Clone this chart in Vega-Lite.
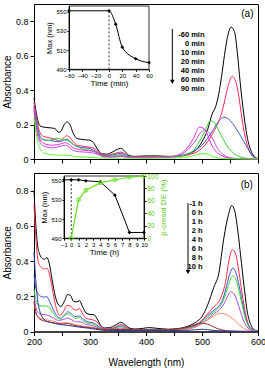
{
"$schema": "https://vega.github.io/schema/vega-lite/v6.json",
"padding": {"left": 1, "top": 3, "right": 2, "bottom": 2},
"config": {
 "view": {"stroke": "black", "strokeWidth": 1},
 "font": "Liberation Sans",
 "axis": {"labelFont": "Liberation Sans", "titleFont": "Liberation Sans", "labelColor": "black", "titleColor": "black", "domainColor": "black", "tickColor": "black", "grid": false, "titleFontWeight": "normal", "labelFlush": false, "labelOverlap": false}
},
"spacing": 6,
"resolve": {"scale": {"color": "independent"}, "legend": {"color": "independent"}},
"datasets": {
 "specA": [
  {"s":"-60 min","w":200,"v":0.355},{"s":"-60 min","w":204,"v":0.27},{"s":"-60 min","w":208,"v":0.21},{"s":"-60 min","w":212,"v":0.19},{"s":"-60 min","w":218,"v":0.185},{"s":"-60 min","w":225,"v":0.182},{"s":"-60 min","w":232,"v":0.18},{"s":"-60 min","w":238,"v":0.175},{"s":"-60 min","w":244,"v":0.155},{"s":"-60 min","w":248,"v":0.16},{"s":"-60 min","w":254,"v":0.2},{"s":"-60 min","w":259,"v":0.215},{"s":"-60 min","w":264,"v":0.2},{"s":"-60 min","w":270,"v":0.15},{"s":"-60 min","w":276,"v":0.12},{"s":"-60 min","w":283,"v":0.115},{"s":"-60 min","w":290,"v":0.112},{"s":"-60 min","w":298,"v":0.11},{"s":"-60 min","w":305,"v":0.1},{"s":"-60 min","w":310,"v":0.075},{"s":"-60 min","w":316,"v":0.045},{"s":"-60 min","w":322,"v":0.03},{"s":"-60 min","w":330,"v":0.028},{"s":"-60 min","w":340,"v":0.04},{"s":"-60 min","w":348,"v":0.055},{"s":"-60 min","w":355,"v":0.062},{"s":"-60 min","w":362,"v":0.045},{"s":"-60 min","w":370,"v":0.02},{"s":"-60 min","w":380,"v":0.015},{"s":"-60 min","w":400,"v":0.018},{"s":"-60 min","w":420,"v":0.018},{"s":"-60 min","w":440,"v":0.015},{"s":"-60 min","w":460,"v":0.018},{"s":"-60 min","w":475,"v":0.03},{"s":"-60 min","w":490,"v":0.055},{"s":"-60 min","w":500,"v":0.1},{"s":"-60 min","w":510,"v":0.17},{"s":"-60 min","w":518,"v":0.26},{"s":"-60 min","w":525,"v":0.31},{"s":"-60 min","w":530,"v":0.38},{"s":"-60 min","w":535,"v":0.48},{"s":"-60 min","w":540,"v":0.6},{"s":"-60 min","w":545,"v":0.7},{"s":"-60 min","w":552,"v":0.765},{"s":"-60 min","w":558,"v":0.74},{"s":"-60 min","w":563,"v":0.62},{"s":"-60 min","w":568,"v":0.45},{"s":"-60 min","w":575,"v":0.25},{"s":"-60 min","w":580,"v":0.14},{"s":"-60 min","w":585,"v":0.07},{"s":"-60 min","w":590,"v":0.03},{"s":"-60 min","w":595,"v":0.01},{"s":"-60 min","w":600,"v":0.002},
  {"s":"0 min","w":200,"v":0.33},{"s":"0 min","w":204,"v":0.25},{"s":"0 min","w":208,"v":0.18},{"s":"0 min","w":212,"v":0.145},{"s":"0 min","w":218,"v":0.13},{"s":"0 min","w":225,"v":0.125},{"s":"0 min","w":232,"v":0.12},{"s":"0 min","w":240,"v":0.11},{"s":"0 min","w":246,"v":0.105},{"s":"0 min","w":252,"v":0.12},{"s":"0 min","w":258,"v":0.135},{"s":"0 min","w":264,"v":0.125},{"s":"0 min","w":270,"v":0.1},{"s":"0 min","w":277,"v":0.08},{"s":"0 min","w":285,"v":0.075},{"s":"0 min","w":295,"v":0.07},{"s":"0 min","w":305,"v":0.065},{"s":"0 min","w":312,"v":0.05},{"s":"0 min","w":320,"v":0.03},{"s":"0 min","w":330,"v":0.022},{"s":"0 min","w":342,"v":0.03},{"s":"0 min","w":355,"v":0.04},{"s":"0 min","w":363,"v":0.03},{"s":"0 min","w":372,"v":0.013},{"s":"0 min","w":390,"v":0.012},{"s":"0 min","w":420,"v":0.012},{"s":"0 min","w":445,"v":0.012},{"s":"0 min","w":465,"v":0.018},{"s":"0 min","w":480,"v":0.028},{"s":"0 min","w":495,"v":0.05},{"s":"0 min","w":510,"v":0.1},{"s":"0 min","w":521,"v":0.16},{"s":"0 min","w":530,"v":0.22},{"s":"0 min","w":537,"v":0.29},{"s":"0 min","w":542,"v":0.36},{"s":"0 min","w":548,"v":0.44},{"s":"0 min","w":554,"v":0.48},{"s":"0 min","w":559,"v":0.46},{"s":"0 min","w":564,"v":0.4},{"s":"0 min","w":569,"v":0.29},{"s":"0 min","w":574,"v":0.18},{"s":"0 min","w":580,"v":0.09},{"s":"0 min","w":587,"v":0.03},{"s":"0 min","w":594,"v":0.008},{"s":"0 min","w":600,"v":0.002},
  {"s":"10 min","w":200,"v":0.31},{"s":"10 min","w":204,"v":0.23},{"s":"10 min","w":208,"v":0.16},{"s":"10 min","w":212,"v":0.125},{"s":"10 min","w":218,"v":0.112},{"s":"10 min","w":226,"v":0.108},{"s":"10 min","w":234,"v":0.105},{"s":"10 min","w":242,"v":0.1},{"s":"10 min","w":248,"v":0.102},{"s":"10 min","w":254,"v":0.11},{"s":"10 min","w":259,"v":0.115},{"s":"10 min","w":265,"v":0.1},{"s":"10 min","w":272,"v":0.08},{"s":"10 min","w":280,"v":0.07},{"s":"10 min","w":290,"v":0.065},{"s":"10 min","w":300,"v":0.06},{"s":"10 min","w":310,"v":0.045},{"s":"10 min","w":320,"v":0.025},{"s":"10 min","w":330,"v":0.018},{"s":"10 min","w":342,"v":0.025},{"s":"10 min","w":355,"v":0.032},{"s":"10 min","w":365,"v":0.02},{"s":"10 min","w":375,"v":0.01},{"s":"10 min","w":400,"v":0.01},{"s":"10 min","w":430,"v":0.01},{"s":"10 min","w":455,"v":0.015},{"s":"10 min","w":475,"v":0.03},{"s":"10 min","w":490,"v":0.055},{"s":"10 min","w":500,"v":0.08},{"s":"10 min","w":510,"v":0.12},{"s":"10 min","w":520,"v":0.17},{"s":"10 min","w":530,"v":0.22},{"s":"10 min","w":539,"v":0.243},{"s":"10 min","w":546,"v":0.235},{"s":"10 min","w":555,"v":0.205},{"s":"10 min","w":565,"v":0.155},{"s":"10 min","w":575,"v":0.1},{"s":"10 min","w":582,"v":0.06},{"s":"10 min","w":590,"v":0.02},{"s":"10 min","w":596,"v":0.005},{"s":"10 min","w":600,"v":0.001},
  {"s":"20 min","w":200,"v":0.29},{"s":"20 min","w":204,"v":0.21},{"s":"20 min","w":208,"v":0.15},{"s":"20 min","w":212,"v":0.12},{"s":"20 min","w":218,"v":0.11},{"s":"20 min","w":226,"v":0.108},{"s":"20 min","w":234,"v":0.115},{"s":"20 min","w":240,"v":0.12},{"s":"20 min","w":246,"v":0.118},{"s":"20 min","w":252,"v":0.112},{"s":"20 min","w":259,"v":0.108},{"s":"20 min","w":266,"v":0.095},{"s":"20 min","w":275,"v":0.075},{"s":"20 min","w":285,"v":0.06},{"s":"20 min","w":300,"v":0.05},{"s":"20 min","w":310,"v":0.04},{"s":"20 min","w":320,"v":0.022},{"s":"20 min","w":330,"v":0.015},{"s":"20 min","w":345,"v":0.02},{"s":"20 min","w":355,"v":0.025},{"s":"20 min","w":365,"v":0.015},{"s":"20 min","w":380,"v":0.008},{"s":"20 min","w":420,"v":0.008},{"s":"20 min","w":450,"v":0.012},{"s":"20 min","w":470,"v":0.025},{"s":"20 min","w":485,"v":0.05},{"s":"20 min","w":495,"v":0.1},{"s":"20 min","w":505,"v":0.16},{"s":"20 min","w":515,"v":0.222},{"s":"20 min","w":522,"v":0.212},{"s":"20 min","w":530,"v":0.165},{"s":"20 min","w":539,"v":0.108},{"s":"20 min","w":548,"v":0.062},{"s":"20 min","w":558,"v":0.03},{"s":"20 min","w":570,"v":0.01},{"s":"20 min","w":585,"v":0.002},{"s":"20 min","w":600,"v":0.0},
  {"s":"40 min","w":200,"v":0.3},{"s":"40 min","w":204,"v":0.2},{"s":"40 min","w":208,"v":0.14},{"s":"40 min","w":212,"v":0.105},{"s":"40 min","w":218,"v":0.09},{"s":"40 min","w":225,"v":0.083},{"s":"40 min","w":232,"v":0.08},{"s":"40 min","w":240,"v":0.082},{"s":"40 min","w":248,"v":0.088},{"s":"40 min","w":256,"v":0.095},{"s":"40 min","w":262,"v":0.085},{"s":"40 min","w":270,"v":0.065},{"s":"40 min","w":280,"v":0.055},{"s":"40 min","w":292,"v":0.05},{"s":"40 min","w":305,"v":0.045},{"s":"40 min","w":315,"v":0.03},{"s":"40 min","w":325,"v":0.015},{"s":"40 min","w":340,"v":0.012},{"s":"40 min","w":355,"v":0.02},{"s":"40 min","w":370,"v":0.01},{"s":"40 min","w":400,"v":0.008},{"s":"40 min","w":440,"v":0.012},{"s":"40 min","w":462,"v":0.03},{"s":"40 min","w":475,"v":0.07},{"s":"40 min","w":485,"v":0.12},{"s":"40 min","w":495,"v":0.185},{"s":"40 min","w":502,"v":0.18},{"s":"40 min","w":510,"v":0.14},{"s":"40 min","w":516,"v":0.09},{"s":"40 min","w":525,"v":0.045},{"s":"40 min","w":535,"v":0.02},{"s":"40 min","w":545,"v":0.008},{"s":"40 min","w":560,"v":0.002},{"s":"40 min","w":600,"v":0.0},
  {"s":"60 min","w":200,"v":0.28},{"s":"60 min","w":204,"v":0.18},{"s":"60 min","w":208,"v":0.12},{"s":"60 min","w":212,"v":0.09},{"s":"60 min","w":218,"v":0.075},{"s":"60 min","w":225,"v":0.068},{"s":"60 min","w":232,"v":0.065},{"s":"60 min","w":240,"v":0.068},{"s":"60 min","w":248,"v":0.075},{"s":"60 min","w":256,"v":0.08},{"s":"60 min","w":262,"v":0.07},{"s":"60 min","w":270,"v":0.05},{"s":"60 min","w":280,"v":0.042},{"s":"60 min","w":292,"v":0.04},{"s":"60 min","w":305,"v":0.035},{"s":"60 min","w":315,"v":0.025},{"s":"60 min","w":325,"v":0.012},{"s":"60 min","w":340,"v":0.01},{"s":"60 min","w":355,"v":0.015},{"s":"60 min","w":370,"v":0.008},{"s":"60 min","w":400,"v":0.006},{"s":"60 min","w":440,"v":0.01},{"s":"60 min","w":462,"v":0.025},{"s":"60 min","w":475,"v":0.055},{"s":"60 min","w":487,"v":0.1},{"s":"60 min","w":497,"v":0.15},{"s":"60 min","w":505,"v":0.17},{"s":"60 min","w":512,"v":0.155},{"s":"60 min","w":520,"v":0.11},{"s":"60 min","w":528,"v":0.06},{"s":"60 min","w":538,"v":0.025},{"s":"60 min","w":550,"v":0.008},{"s":"60 min","w":565,"v":0.002},{"s":"60 min","w":600,"v":0.0},
  {"s":"90 min","w":200,"v":0.24},{"s":"90 min","w":203,"v":0.17},{"s":"90 min","w":206,"v":0.11},{"s":"90 min","w":210,"v":0.065},{"s":"90 min","w":215,"v":0.04},{"s":"90 min","w":222,"v":0.03},{"s":"90 min","w":232,"v":0.025},{"s":"90 min","w":245,"v":0.022},{"s":"90 min","w":258,"v":0.022},{"s":"90 min","w":268,"v":0.017},{"s":"90 min","w":280,"v":0.012},{"s":"90 min","w":300,"v":0.01},{"s":"90 min","w":320,"v":0.006},{"s":"90 min","w":350,"v":0.005},{"s":"90 min","w":400,"v":0.004},{"s":"90 min","w":450,"v":0.006},{"s":"90 min","w":475,"v":0.012},{"s":"90 min","w":490,"v":0.025},{"s":"90 min","w":500,"v":0.032},{"s":"90 min","w":508,"v":0.03},{"s":"90 min","w":518,"v":0.015},{"s":"90 min","w":530,"v":0.005},{"s":"90 min","w":545,"v":0.001},{"s":"90 min","w":600,"v":0.0}
 ],
 "specB": [
  {"s":"-1 h","w":200,"v":0.8},{"s":"-1 h","w":203,"v":0.62},{"s":"-1 h","w":206,"v":0.5},{"s":"-1 h","w":210,"v":0.44},{"s":"-1 h","w":215,"v":0.415},{"s":"-1 h","w":219,"v":0.41},{"s":"-1 h","w":223,"v":0.42},{"s":"-1 h","w":227,"v":0.39},{"s":"-1 h","w":232,"v":0.3},{"s":"-1 h","w":238,"v":0.2},{"s":"-1 h","w":244,"v":0.15},{"s":"-1 h","w":248,"v":0.142},{"s":"-1 h","w":254,"v":0.17},{"s":"-1 h","w":260,"v":0.21},{"s":"-1 h","w":265,"v":0.205},{"s":"-1 h","w":271,"v":0.17},{"s":"-1 h","w":276,"v":0.168},{"s":"-1 h","w":281,"v":0.175},{"s":"-1 h","w":287,"v":0.14},{"s":"-1 h","w":293,"v":0.105},{"s":"-1 h","w":300,"v":0.097},{"s":"-1 h","w":307,"v":0.095},{"s":"-1 h","w":313,"v":0.07},{"s":"-1 h","w":319,"v":0.035},{"s":"-1 h","w":326,"v":0.02},{"s":"-1 h","w":335,"v":0.022},{"s":"-1 h","w":345,"v":0.035},{"s":"-1 h","w":355,"v":0.052},{"s":"-1 h","w":362,"v":0.04},{"s":"-1 h","w":370,"v":0.02},{"s":"-1 h","w":380,"v":0.014},{"s":"-1 h","w":395,"v":0.018},{"s":"-1 h","w":405,"v":0.022},{"s":"-1 h","w":420,"v":0.018},{"s":"-1 h","w":440,"v":0.013},{"s":"-1 h","w":460,"v":0.018},{"s":"-1 h","w":475,"v":0.03},{"s":"-1 h","w":490,"v":0.055},{"s":"-1 h","w":500,"v":0.085},{"s":"-1 h","w":510,"v":0.15},{"s":"-1 h","w":521,"v":0.25},{"s":"-1 h","w":530,"v":0.33},{"s":"-1 h","w":539,"v":0.53},{"s":"-1 h","w":547,"v":0.66},{"s":"-1 h","w":553,"v":0.715},{"s":"-1 h","w":558,"v":0.69},{"s":"-1 h","w":564,"v":0.57},{"s":"-1 h","w":569,"v":0.43},{"s":"-1 h","w":575,"v":0.26},{"s":"-1 h","w":581,"v":0.11},{"s":"-1 h","w":587,"v":0.04},{"s":"-1 h","w":593,"v":0.01},{"s":"-1 h","w":600,"v":0.002},
  {"s":"0 h","w":200,"v":0.72},{"s":"0 h","w":203,"v":0.55},{"s":"0 h","w":206,"v":0.43},{"s":"0 h","w":210,"v":0.375},{"s":"0 h","w":215,"v":0.36},{"s":"0 h","w":219,"v":0.355},{"s":"0 h","w":223,"v":0.36},{"s":"0 h","w":228,"v":0.32},{"s":"0 h","w":234,"v":0.22},{"s":"0 h","w":240,"v":0.13},{"s":"0 h","w":246,"v":0.09},{"s":"0 h","w":252,"v":0.11},{"s":"0 h","w":259,"v":0.148},{"s":"0 h","w":265,"v":0.145},{"s":"0 h","w":271,"v":0.125},{"s":"0 h","w":276,"v":0.122},{"s":"0 h","w":281,"v":0.13},{"s":"0 h","w":287,"v":0.1},{"s":"0 h","w":293,"v":0.075},{"s":"0 h","w":302,"v":0.068},{"s":"0 h","w":309,"v":0.062},{"s":"0 h","w":315,"v":0.045},{"s":"0 h","w":322,"v":0.02},{"s":"0 h","w":332,"v":0.015},{"s":"0 h","w":345,"v":0.025},{"s":"0 h","w":355,"v":0.04},{"s":"0 h","w":363,"v":0.03},{"s":"0 h","w":372,"v":0.012},{"s":"0 h","w":400,"v":0.012},{"s":"0 h","w":440,"v":0.01},{"s":"0 h","w":465,"v":0.016},{"s":"0 h","w":480,"v":0.028},{"s":"0 h","w":495,"v":0.05},{"s":"0 h","w":510,"v":0.1},{"s":"0 h","w":521,"v":0.14},{"s":"0 h","w":530,"v":0.17},{"s":"0 h","w":537,"v":0.22},{"s":"0 h","w":542,"v":0.28},{"s":"0 h","w":548,"v":0.4},{"s":"0 h","w":554,"v":0.465},{"s":"0 h","w":560,"v":0.44},{"s":"0 h","w":565,"v":0.36},{"s":"0 h","w":570,"v":0.25},{"s":"0 h","w":576,"v":0.13},{"s":"0 h","w":582,"v":0.05},{"s":"0 h","w":590,"v":0.012},{"s":"0 h","w":600,"v":0.001},
  {"s":"1 h","w":200,"v":0.32},{"s":"1 h","w":203,"v":0.25},{"s":"1 h","w":207,"v":0.215},{"s":"1 h","w":212,"v":0.2},{"s":"1 h","w":218,"v":0.195},{"s":"1 h","w":223,"v":0.198},{"s":"1 h","w":228,"v":0.17},{"s":"1 h","w":235,"v":0.12},{"s":"1 h","w":242,"v":0.085},{"s":"1 h","w":248,"v":0.075},{"s":"1 h","w":255,"v":0.095},{"s":"1 h","w":261,"v":0.112},{"s":"1 h","w":267,"v":0.1},{"s":"1 h","w":274,"v":0.085},{"s":"1 h","w":281,"v":0.088},{"s":"1 h","w":288,"v":0.07},{"s":"1 h","w":296,"v":0.055},{"s":"1 h","w":305,"v":0.05},{"s":"1 h","w":315,"v":0.03},{"s":"1 h","w":325,"v":0.012},{"s":"1 h","w":340,"v":0.015},{"s":"1 h","w":355,"v":0.032},{"s":"1 h","w":365,"v":0.02},{"s":"1 h","w":375,"v":0.01},{"s":"1 h","w":420,"v":0.01},{"s":"1 h","w":460,"v":0.013},{"s":"1 h","w":480,"v":0.025},{"s":"1 h","w":495,"v":0.045},{"s":"1 h","w":510,"v":0.09},{"s":"1 h","w":521,"v":0.12},{"s":"1 h","w":530,"v":0.145},{"s":"1 h","w":538,"v":0.19},{"s":"1 h","w":544,"v":0.26},{"s":"1 h","w":550,"v":0.33},{"s":"1 h","w":555,"v":0.36},{"s":"1 h","w":560,"v":0.34},{"s":"1 h","w":565,"v":0.28},{"s":"1 h","w":570,"v":0.2},{"s":"1 h","w":576,"v":0.105},{"s":"1 h","w":582,"v":0.04},{"s":"1 h","w":590,"v":0.01},{"s":"1 h","w":600,"v":0.001},
  {"s":"2 h","w":200,"v":0.24},{"s":"2 h","w":204,"v":0.17},{"s":"2 h","w":208,"v":0.15},{"s":"2 h","w":214,"v":0.145},{"s":"2 h","w":220,"v":0.145},{"s":"2 h","w":226,"v":0.14},{"s":"2 h","w":233,"v":0.11},{"s":"2 h","w":240,"v":0.08},{"s":"2 h","w":247,"v":0.072},{"s":"2 h","w":254,"v":0.088},{"s":"2 h","w":261,"v":0.1},{"s":"2 h","w":267,"v":0.09},{"s":"2 h","w":274,"v":0.075},{"s":"2 h","w":281,"v":0.078},{"s":"2 h","w":288,"v":0.06},{"s":"2 h","w":296,"v":0.048},{"s":"2 h","w":305,"v":0.043},{"s":"2 h","w":315,"v":0.025},{"s":"2 h","w":325,"v":0.01},{"s":"2 h","w":340,"v":0.012},{"s":"2 h","w":355,"v":0.028},{"s":"2 h","w":365,"v":0.016},{"s":"2 h","w":375,"v":0.008},{"s":"2 h","w":420,"v":0.008},{"s":"2 h","w":460,"v":0.012},{"s":"2 h","w":480,"v":0.022},{"s":"2 h","w":495,"v":0.04},{"s":"2 h","w":510,"v":0.08},{"s":"2 h","w":521,"v":0.11},{"s":"2 h","w":530,"v":0.135},{"s":"2 h","w":538,"v":0.175},{"s":"2 h","w":544,"v":0.23},{"s":"2 h","w":550,"v":0.29},{"s":"2 h","w":555,"v":0.315},{"s":"2 h","w":560,"v":0.3},{"s":"2 h","w":565,"v":0.245},{"s":"2 h","w":570,"v":0.175},{"s":"2 h","w":576,"v":0.09},{"s":"2 h","w":582,"v":0.035},{"s":"2 h","w":590,"v":0.008},{"s":"2 h","w":600,"v":0.001},
  {"s":"4 h","w":200,"v":0.2},{"s":"4 h","w":204,"v":0.13},{"s":"4 h","w":208,"v":0.105},{"s":"4 h","w":214,"v":0.097},{"s":"4 h","w":220,"v":0.095},{"s":"4 h","w":227,"v":0.09},{"s":"4 h","w":235,"v":0.075},{"s":"4 h","w":244,"v":0.063},{"s":"4 h","w":252,"v":0.068},{"s":"4 h","w":260,"v":0.076},{"s":"4 h","w":268,"v":0.065},{"s":"4 h","w":276,"v":0.055},{"s":"4 h","w":283,"v":0.055},{"s":"4 h","w":292,"v":0.042},{"s":"4 h","w":302,"v":0.035},{"s":"4 h","w":312,"v":0.025},{"s":"4 h","w":322,"v":0.01},{"s":"4 h","w":340,"v":0.01},{"s":"4 h","w":355,"v":0.02},{"s":"4 h","w":368,"v":0.01},{"s":"4 h","w":400,"v":0.006},{"s":"4 h","w":450,"v":0.008},{"s":"4 h","w":480,"v":0.018},{"s":"4 h","w":495,"v":0.035},{"s":"4 h","w":510,"v":0.07},{"s":"4 h","w":521,"v":0.1},{"s":"4 h","w":530,"v":0.12},{"s":"4 h","w":538,"v":0.15},{"s":"4 h","w":545,"v":0.195},{"s":"4 h","w":551,"v":0.226},{"s":"4 h","w":557,"v":0.215},{"s":"4 h","w":563,"v":0.17},{"s":"4 h","w":569,"v":0.11},{"s":"4 h","w":575,"v":0.055},{"s":"4 h","w":582,"v":0.02},{"s":"4 h","w":590,"v":0.005},{"s":"4 h","w":600,"v":0.0},
  {"s":"6 h","w":200,"v":0.17},{"s":"6 h","w":204,"v":0.1},{"s":"6 h","w":209,"v":0.08},{"s":"6 h","w":216,"v":0.07},{"s":"6 h","w":225,"v":0.065},{"s":"6 h","w":235,"v":0.058},{"s":"6 h","w":247,"v":0.048},{"s":"6 h","w":258,"v":0.05},{"s":"6 h","w":266,"v":0.045},{"s":"6 h","w":278,"v":0.036},{"s":"6 h","w":290,"v":0.03},{"s":"6 h","w":302,"v":0.025},{"s":"6 h","w":315,"v":0.015},{"s":"6 h","w":330,"v":0.008},{"s":"6 h","w":355,"v":0.012},{"s":"6 h","w":380,"v":0.005},{"s":"6 h","w":440,"v":0.006},{"s":"6 h","w":470,"v":0.012},{"s":"6 h","w":485,"v":0.022},{"s":"6 h","w":500,"v":0.045},{"s":"6 h","w":512,"v":0.07},{"s":"6 h","w":523,"v":0.092},{"s":"6 h","w":533,"v":0.103},{"s":"6 h","w":543,"v":0.097},{"s":"6 h","w":552,"v":0.08},{"s":"6 h","w":561,"v":0.055},{"s":"6 h","w":570,"v":0.028},{"s":"6 h","w":580,"v":0.01},{"s":"6 h","w":590,"v":0.002},{"s":"6 h","w":600,"v":0.0},
  {"s":"8 h","w":200,"v":0.17},{"s":"8 h","w":204,"v":0.1},{"s":"8 h","w":209,"v":0.075},{"s":"8 h","w":216,"v":0.062},{"s":"8 h","w":225,"v":0.055},{"s":"8 h","w":238,"v":0.048},{"s":"8 h","w":250,"v":0.043},{"s":"8 h","w":260,"v":0.045},{"s":"8 h","w":272,"v":0.035},{"s":"8 h","w":290,"v":0.025},{"s":"8 h","w":310,"v":0.018},{"s":"8 h","w":330,"v":0.01},{"s":"8 h","w":355,"v":0.012},{"s":"8 h","w":400,"v":0.008},{"s":"8 h","w":440,"v":0.01},{"s":"8 h","w":465,"v":0.018},{"s":"8 h","w":480,"v":0.03},{"s":"8 h","w":490,"v":0.042},{"s":"8 h","w":497,"v":0.048},{"s":"8 h","w":505,"v":0.046},{"s":"8 h","w":515,"v":0.035},{"s":"8 h","w":525,"v":0.02},{"s":"8 h","w":535,"v":0.01},{"s":"8 h","w":548,"v":0.003},{"s":"8 h","w":565,"v":0.001},{"s":"8 h","w":600,"v":0.0},
  {"s":"10 h","w":200,"v":0.45},{"s":"10 h","w":203,"v":0.3},{"s":"10 h","w":206,"v":0.19},{"s":"10 h","w":210,"v":0.12},{"s":"10 h","w":215,"v":0.08},{"s":"10 h","w":222,"v":0.06},{"s":"10 h","w":232,"v":0.05},{"s":"10 h","w":245,"v":0.04},{"s":"10 h","w":260,"v":0.035},{"s":"10 h","w":280,"v":0.025},{"s":"10 h","w":300,"v":0.018},{"s":"10 h","w":320,"v":0.008},{"s":"10 h","w":340,"v":0.006},{"s":"10 h","w":380,"v":0.005},{"s":"10 h","w":440,"v":0.005},{"s":"10 h","w":475,"v":0.007},{"s":"10 h","w":490,"v":0.01},{"s":"10 h","w":500,"v":0.013},{"s":"10 h","w":510,"v":0.01},{"s":"10 h","w":525,"v":0.005},{"s":"10 h","w":545,"v":0.002},{"s":"10 h","w":600,"v":0.0}
 ],
 "insetA": [{"t":-60,"m":551},{"t":0,"m":551},{"t":10,"m":537},{"t":20,"m":513},{"t":40,"m":501},{"t":60,"m":497}],
 "insetBmax": [{"t":-1,"m":551},{"t":0,"m":551},{"t":1,"m":551},{"t":2,"m":550},{"t":4,"m":549},{"t":6,"m":535},{"t":8,"m":496},{"t":10,"m":496}],
 "insetBde": [{"t":0,"d":0},{"t":1,"d":62},{"t":2,"d":77},{"t":4,"d":89},{"t":6,"d":94},{"t":8,"d":98},{"t":10,"d":100}]
},
"vconcat": [
 {
  "width": 224, "height": 155,
  "resolve": {"scale": {"x": "independent", "y": "independent"}},
  "layer": [
   {
    "layer": [
     {
      "data": {"name": "specA"},
      "mark": {"type": "line", "strokeWidth": 1, "interpolate": "monotone"},
      "encoding": {
       "x": {"field": "w", "type": "quantitative", "scale": {"domain": [200, 600], "nice": false, "zero": false},
             "axis": {"orient": "bottom", "values": [200,250,300,350,400,450,500,550,600], "tickCount": 50, "labels": false, "title": null, "tickSize": 4}},
       "y": {"field": "v", "type": "quantitative", "scale": {"domain": [0, 0.9], "nice": false},
             "axis": {"orient": "left", "values": [0,0.2,0.4,0.6,0.8], "tickCount": 50, "format": ".1~f", "title": "Absorbance", "tickSize": 4, "labelFontSize": 9, "titleFontSize": 10, "labelPadding": 2, "titlePadding": 3}},
       "color": {"field": "s", "type": "nominal",
             "scale": {"domain": ["-60 min","0 min","10 min","20 min","40 min","60 min","90 min"], "range": ["#000000","#ff2a55","#3f51d8","#2fd12f","#e82ee8","#b84fd0","#5cff2a"]},
             "legend": {"orient": "none", "legendX": 163, "legendY": 27.5, "title": null, "symbolOpacity": 0, "symbolStrokeWidth": 0, "symbolSize": 0, "labelAlign": "right", "labelOffset": 0, "labelFontSize": 7.5, "labelFontWeight": "bold", "labelFont": "Liberation Sans", "labelColor": "black", "rowPadding": 0, "padding": 0}}
      }
     },
     {
      "data": {"values": [{}]},
      "mark": {"type": "rule", "color": "black", "strokeWidth": 1},
      "encoding": {"x": {"datum": 447}, "y": {"datum": 0.755}, "y2": {"datum": 0.45}}
     },
     {
      "data": {"values": [{}]},
      "mark": {"type": "point", "shape": "triangle-down", "filled": true, "color": "black", "size": 22, "opacity": 1},
      "encoding": {"x": {"datum": 447}, "y": {"datum": 0.448}}
     },
     {
      "data": {"values": [{}]},
      "mark": {"type": "text", "fontSize": 10, "font": "Liberation Sans", "color": "black"},
      "encoding": {"x": {"datum": 581}, "y": {"datum": 0.842}, "text": {"value": "(a)"}}
     }
    ]
   },
   {
    "layer": [
     {
      "data": {"name": "insetA"},
      "mark": {"type": "line", "color": "black", "strokeWidth": 1, "interpolate": "monotone"},
      "encoding": {
       "x": {"field": "t", "type": "quantitative", "scale": {"domain": [-60, 60], "range": [35, 115], "nice": false, "zero": false},
             "axis": {"orient": "bottom", "offset": -89.7, "values": [-60,-40,-20,0,20,40,60], "tickCount": 50, "format": "d", "labelFontSize": 6, "tickSize": 2, "labelPadding": 1, "title": "Time (min)", "titleFontSize": 8, "titlePadding": 1}},
       "y": {"field": "m", "type": "quantitative", "scale": {"domain": [490, 556], "range": [65.3, 2], "nice": false, "zero": false},
             "axis": {"orient": "left", "offset": -35, "values": [490,510,530,550], "tickCount": 50, "format": "d", "labelFontSize": 6, "tickSize": 2, "labelPadding": 1, "title": "Max (nm)", "titleFontSize": 7.5, "titlePadding": 2}}
      }
     },
     {
      "data": {"name": "insetA"},
      "mark": {"type": "point", "shape": "diamond", "filled": true, "color": "black", "size": 14, "opacity": 1},
      "encoding": {"x": {"field": "t", "type": "quantitative"}, "y": {"field": "m", "type": "quantitative"}}
     },
     {
      "data": {"values": [{}]},
      "mark": {"type": "rect", "fillOpacity": 0, "stroke": "black", "strokeWidth": 0.8},
      "encoding": {"x": {"datum": -60}, "x2": {"datum": 60}, "y": {"datum": 490}, "y2": {"datum": 556}}
     },
     {
      "data": {"values": [{}]},
      "mark": {"type": "rule", "color": "black", "strokeWidth": 0.8, "strokeDash": [2, 2]},
      "encoding": {"x": {"datum": 0}, "y": {"datum": 490}, "y2": {"datum": 551}}
     }
    ]
   }
  ]
 },
 {
  "width": 224, "height": 158.5,
  "resolve": {"scale": {"x": "independent", "y": "independent"}},
  "layer": [
   {
    "layer": [
     {
      "data": {"name": "specB"},
      "mark": {"type": "line", "strokeWidth": 1, "interpolate": "monotone"},
      "encoding": {
       "x": {"field": "w", "type": "quantitative", "scale": {"domain": [200, 600], "nice": false, "zero": false},
             "axis": {"orient": "bottom", "values": [200,250,300,350,400,450,500,550,600], "tickCount": 50, "format": "d", "labelExpr": "datum.value % 100 === 0 ? datum.label : ''", "labelFontSize": 9, "title": "Wavelength  (nm)", "titleFontSize": 10, "tickSize": 4, "labelPadding": 2, "titlePadding": 11}},
       "y": {"field": "v", "type": "quantitative", "scale": {"domain": [0, 0.9], "nice": false},
             "axis": {"orient": "left", "values": [0,0.2,0.4,0.6,0.8], "tickCount": 50, "format": ".1~f", "title": "Absorbance", "tickSize": 4, "labelFontSize": 9, "titleFontSize": 10, "labelPadding": 2, "titlePadding": 3}},
       "color": {"field": "s", "type": "nominal",
             "scale": {"domain": ["-1 h","0 h","1 h","2 h","4 h","6 h","8 h","10 h"], "range": ["#000000","#ff2a4a","#3f51d8","#36d936","#a64ee6","#ff8a66","#992a2a","#283593"]},
             "legend": {"orient": "none", "legendX": 161, "legendY": 27, "title": null, "symbolOpacity": 0, "symbolStrokeWidth": 0, "symbolSize": 0, "labelAlign": "right", "labelOffset": 0, "labelFontSize": 7.5, "labelFontWeight": "bold", "labelFont": "Liberation Sans", "labelColor": "black", "rowPadding": 0, "padding": 0}}
      }
     },
     {
      "data": {"values": [{}]},
      "mark": {"type": "rule", "color": "black", "strokeWidth": 1},
      "encoding": {"x": {"datum": 475}, "y": {"datum": 0.729}, "y2": {"datum": 0.34}}
     },
     {
      "data": {"values": [{}]},
      "mark": {"type": "point", "shape": "triangle-down", "filled": true, "color": "black", "size": 22, "opacity": 1},
      "encoding": {"x": {"datum": 475}, "y": {"datum": 0.338}}
     },
     {
      "data": {"values": [{}]},
      "mark": {"type": "text", "fontSize": 10, "font": "Liberation Sans", "color": "black"},
      "encoding": {"x": {"datum": 580}, "y": {"datum": 0.833}, "text": {"value": "(b)"}}
     }
    ]
   },
   {
    "layer": [
     {
      "data": {"name": "insetBmax"},
      "mark": {"type": "line", "color": "black", "strokeWidth": 1},
      "encoding": {
       "x": {"field": "t", "type": "quantitative", "scale": {"domain": [-1, 10], "range": [30, 110], "nice": false, "zero": false},
             "axis": {"orient": "bottom", "offset": -93.3, "values": [-1,0,1,2,3,4,5,6,7,8,9,10], "tickCount": 50, "format": "d", "labelFontSize": 6, "tickSize": 2, "labelPadding": 1, "title": "Time (h)", "titleFontSize": 8, "titlePadding": 1}},
       "y": {"field": "m", "type": "quantitative", "scale": {"domain": [490, 555], "range": [65.2, 3], "nice": false, "zero": false},
             "axis": {"orient": "left", "offset": -30, "values": [490,510,530,550], "tickCount": 50, "format": "d", "labelFontSize": 6, "tickSize": 2, "labelPadding": 1, "title": "Max (nm)", "titleFontSize": 7.5, "titlePadding": 2}}
      }
     },
     {
      "data": {"name": "insetBmax"},
      "mark": {"type": "point", "shape": "diamond", "filled": true, "color": "black", "size": 14, "opacity": 1},
      "encoding": {"x": {"field": "t", "type": "quantitative"}, "y": {"field": "m", "type": "quantitative"}}
     },
     {
      "data": {"values": [{}]},
      "mark": {"type": "rect", "fillOpacity": 0, "stroke": "black", "strokeWidth": 0.8},
      "encoding": {"x": {"datum": -1}, "x2": {"datum": 10}, "y": {"datum": 490}, "y2": {"datum": 555}}
     },
     {
      "data": {"values": [{}]},
      "mark": {"type": "rule", "color": "black", "strokeWidth": 0.8, "strokeDash": [2, 2]},
      "encoding": {"x": {"datum": 0}, "y": {"datum": 490}, "y2": {"datum": 551}}
     }
    ]
   },
   {
    "layer": [
     {
      "data": {"name": "insetBde"},
      "mark": {"type": "line", "color": "#66e01e", "strokeWidth": 1.2},
      "encoding": {
       "x": {"field": "t", "type": "quantitative", "scale": {"domain": [-1, 10], "range": [30, 110], "nice": false, "zero": false}, "axis": null},
       "y": {"field": "d", "type": "quantitative", "scale": {"domain": [0, 100], "range": [65.2, 3], "nice": false},
             "axis": {"orient": "right", "offset": -114, "values": [0,20,40,60,80,100], "tickCount": 50, "format": "d", "labelFontSize": 6.5, "labelColor": "#55cc11", "tickColor": "black", "tickSize": 2, "labelPadding": 1, "title": "p-cresol DE (%)", "titleColor": "#55cc11", "titleFontSize": 8, "titleAngle": 270, "titleBaseline": "top", "titlePadding": 2}}
      }
     },
     {
      "data": {"name": "insetBde"},
      "mark": {"type": "point", "shape": "circle", "filled": false, "color": "#66e01e", "size": 14, "strokeWidth": 1, "opacity": 1},
      "encoding": {"x": {"field": "t", "type": "quantitative"}, "y": {"field": "d", "type": "quantitative"}}
     }
    ]
   }
  ]
 }
]
}
